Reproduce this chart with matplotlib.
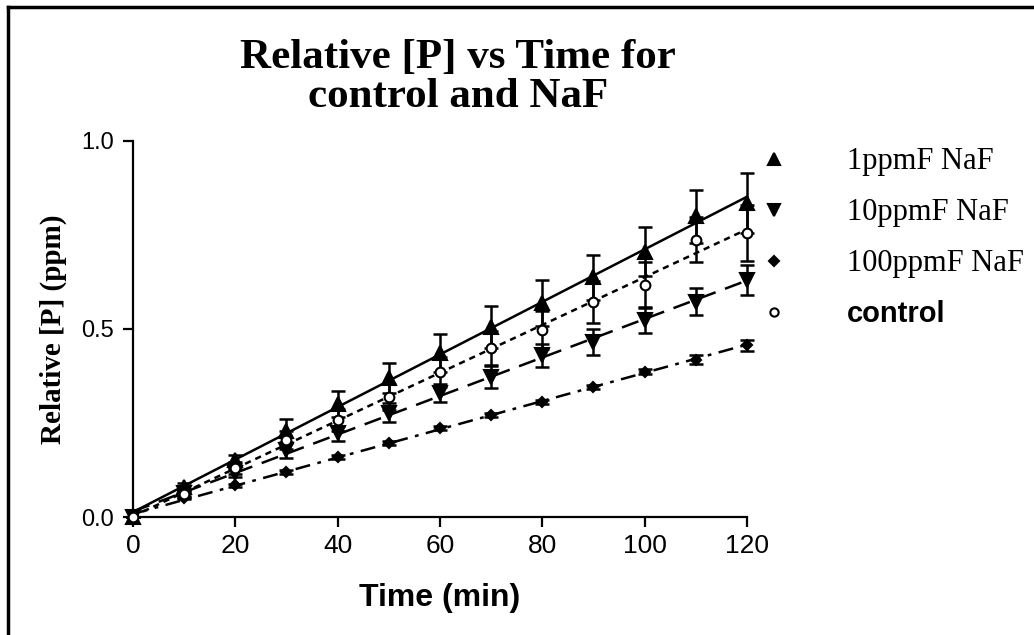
import numpy as np
import matplotlib
matplotlib.use("Agg")
import matplotlib.pyplot as plt
from matplotlib.lines import Line2D

# data
time = [0, 10, 20, 30, 40, 50, 60, 70, 80, 90, 100, 110, 120]
p1 = [0, 0.08, 0.152, 0.23, 0.30, 0.37, 0.436, 0.505, 0.569, 0.638, 0.705, 0.80, 0.835]
e1 = [0, 0.01, 0.012, 0.03, 0.035, 0.04, 0.05, 0.055, 0.06, 0.06, 0.065, 0.07, 0.08]
p10 = [0, 0.065, 0.117, 0.178, 0.223, 0.277, 0.33, 0.372, 0.43, 0.466, 0.524, 0.572, 0.63]
e10 = [0, 0.008, 0.01, 0.02, 0.02, 0.025, 0.025, 0.03, 0.03, 0.035, 0.035, 0.036, 0.04]
p100 = [0, 0.05, 0.085, 0.12, 0.16, 0.197, 0.237, 0.271, 0.306, 0.346, 0.386, 0.418, 0.457]
e100 = [0, 0.003, 0.004, 0.005, 0.005, 0.005, 0.005, 0.005, 0.006, 0.006, 0.007, 0.012, 0.015]
pc = [0, 0.06, 0.13, 0.205, 0.258, 0.32, 0.386, 0.45, 0.497, 0.572, 0.617, 0.737, 0.755]
ec = [0, 0.01, 0.015, 0.025, 0.03, 0.035, 0.04, 0.045, 0.05, 0.056, 0.06, 0.06, 0.075]

labels = ["1ppmF NaF", "10ppmF NaF", "100ppmF NaF", "control"]
x_ticks = [0, 20, 40, 60, 80, 100, 120]
y_ticks = [0.0, 0.5, 1.0]

serif = "Liberation Serif"
sans = "Liberation Sans"

fig = plt.figure(figsize=(10.34, 6.35), dpi=100)
ax = fig.add_axes([0.1286, 0.1858, 0.5938, 0.5922])

series = [
    (p1, e1, "^", "black", (0, ()), 10),
    (p10, e10, "v", "black", (0, (7, 4)), 10),
    (p100, e100, "D", "black", (0, (6, 3, 1.5, 3)), 5.5),
    (pc, ec, "o", "white", (0, (2.5, 2)), 7),
]

t = np.array(time, dtype=float)
handles = []
for (y, err, mk, fc, ls, ms), lab in zip(series, labels):
    ax.errorbar(time, y, yerr=err, fmt="none", ecolor="black", elinewidth=1.8,
                capsize=5, capthick=1.8, clip_on=False, zorder=3)
    # linear fit line through each series
    k, b = np.polyfit(t, y, 1)
    ax.plot([0, 120], [b, k * 120 + b], color="black", lw=1.8, linestyle=ls, zorder=2)
    ax.plot(time, y, linestyle="none", marker=mk, ms=ms, mfc=fc, mec="black",
            mew=1.5, clip_on=False, zorder=4)
    handles.append(Line2D([], [], linestyle="none", marker=mk, ms=ms * 0.85,
                          mfc=fc, mec="black", mew=1.5, label=lab))

ax.set_xlim(0, 120)
ax.set_ylim(0, 1.0)
ax.set_xticks(x_ticks)
ax.set_yticks(y_ticks)
ax.set_yticklabels(["0.0", "0.5", "1.0"])
for s in ["top", "right"]:
    ax.spines[s].set_visible(False)
for s in ["left", "bottom"]:
    ax.spines[s].set_linewidth(1.6)
ax.tick_params(direction="out", length=7, width=1.6)
ax.tick_params(axis="x", labelsize=19, pad=5)
ax.tick_params(axis="y", labelsize=17, pad=7)
for lbl in ax.get_xticklabels() + ax.get_yticklabels():
    lbl.set_fontfamily(sans)

ax.set_xlabel("Time (min)", fontfamily=sans, fontweight="bold", fontsize=23, labelpad=18)
ax.set_ylabel("Relative [P] (ppm)", fontfamily=serif, fontweight="bold", fontsize=21, labelpad=10)
fig.text(0.443, 0.893, "Relative [P] vs Time for", ha="center", va="baseline",
         fontfamily=serif, fontweight="bold", fontsize=31)
fig.text(0.443, 0.8315, "control and NaF", ha="center", va="baseline",
         fontfamily=serif, fontweight="bold", fontsize=31)

leg = fig.legend(handles=handles, loc="upper left", bbox_to_anchor=(0.7186, 0.768),
                 frameon=False, borderpad=0, borderaxespad=0, handletextpad=1.4,
                 labelspacing=0.72, prop={"family": serif, "size": 22})
leg.get_texts()[3].set_fontfamily(sans)
leg.get_texts()[3].set_fontweight("bold")
leg.get_texts()[3].set_fontsize(21)

# outer frame lines (top and left)
fig.add_artist(Line2D([0.008, 1.0], [0.989, 0.989], color="black", lw=2.5, transform=fig.transFigure))
fig.add_artist(Line2D([0.008, 0.008], [0.0, 0.989], color="black", lw=2.5, transform=fig.transFigure))

fig.savefig("out.png", dpi=100)
